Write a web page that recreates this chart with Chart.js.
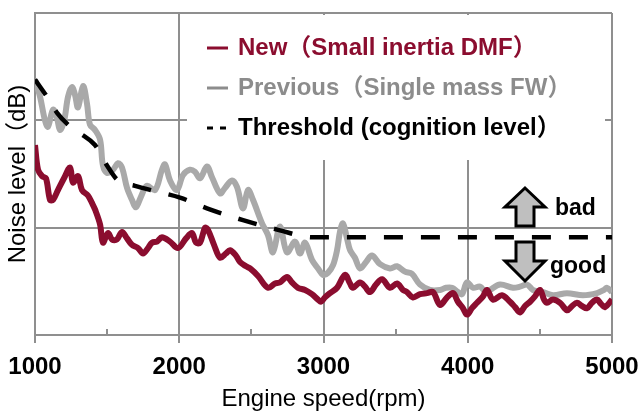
<!DOCTYPE html>
<html>
<head>
<meta charset="utf-8">
<script src="https://cdn.jsdelivr.net/npm/chart.js@4/dist/chart.umd.min.js"></script>
<style>
  html, body { margin: 0; padding: 0; background: #fff; }
  #wrap { width: 640px; height: 414px; }
</style>
</head>
<body>
<div id="wrap"><canvas id="noiseChart" width="640" height="414"></canvas></div>
<script>
const xTicks = [1000, 2000, 3000, 4000, 5000];
const minorTicks = [1500, 2500, 3500, 4500];

const newRpm = [1000,1021,1049,1076,1104,1125,1159,1201,1243,1263,1298,1326,1367,1395,1416,1451,1471,1506,1534,1568,1603,1638,1672,1714,1749,1783,1811,1846,1880,1936,1991,2047,2088,2116,2144,2179,2199,2241,2283,2324,2352,2393,2421,2463,2491,2546,2615,2664,2698,2747,2781,2823,2872,2920,2962,2983,3010,3045,3094,3149,3184,3204,3253,3288,3322,3364,3406,3461,3510,3551,3579,3620,3669,3718,3759,3808,3856,3898,3932,3967,3995,4029,4064,4106,4133,4175,4237,4293,4328,4362,4397,4432,4466,4501,4529,4549,4591,4640,4688,4723,4757,4792,4827,4861,4896,4924,4951,5000];
const newLevel = [17.7,15.4,14.8,14.6,12.6,12.6,13.5,14.6,15.6,14.2,14.8,13.5,13.0,12.3,11.7,10.3,8.6,9.5,8.9,8.9,9.6,9.0,8.4,8.1,7.6,8.1,8.6,8.7,9.1,8.7,8.1,9.0,9.5,8.6,8.6,10.0,9.8,8.4,7.2,7.6,7.9,7.4,6.8,6.4,6.2,5.5,4.4,4.8,4.9,5.4,4.9,4.4,4.2,3.8,3.3,3.1,3.5,3.9,4.4,5.6,4.8,4.4,4.9,4.5,4.0,4.7,5.2,4.4,4.8,4.2,4.0,3.5,3.8,3.9,4.0,2.8,3.5,3.9,3.1,2.5,1.9,2.5,3.0,3.6,4.2,3.3,3.7,3.1,2.6,2.1,2.7,3.1,3.6,4.2,3.3,3.0,3.3,3.0,2.3,2.7,3.0,2.7,2.5,3.0,3.3,2.9,2.6,3.3];

const prevRpm = [1000,1035,1069,1090,1125,1153,1173,1201,1229,1256,1277,1298,1333,1360,1381,1416,1451,1471,1499,1541,1575,1603,1638,1672,1700,1735,1776,1832,1880,1901,1936,1984,2026,2075,2109,2144,2192,2227,2283,2317,2366,2400,2442,2477,2511,2574,2615,2650,2698,2747,2802,2837,2872,2920,2962,2997,3031,3066,3094,3114,3135,3163,3184,3218,3253,3295,3336,3392,3461,3510,3565,3613,3669,3738,3808,3849,3891,3932,3960,3995,4036,4085,4126,4154,4224,4314,4362,4411,4452,4522,4591,4688,4799,4896,4945,4965,5000];
const prevLevel = [23.8,22.2,20.0,19.4,21.0,20.2,19.1,19.9,22.2,23.1,22.4,21.2,23.2,21.6,19.6,19.1,18.2,15.8,15.1,15.4,16.0,15.6,13.7,12.6,11.9,12.9,13.9,13.5,15.4,15.9,14.4,13.5,14.9,15.4,15.2,14.6,15.7,14.7,13.2,13.7,14.4,13.8,11.8,13.5,12.6,10.4,9.3,7.7,10.1,7.7,8.7,7.6,8.6,7.0,6.2,5.6,5.8,6.5,7.9,9.6,10.4,9.0,7.9,7.2,6.2,6.8,7.4,6.6,6.2,6.4,5.9,5.7,4.7,4.2,4.2,4.4,4.4,4.0,3.8,4.9,4.4,4.5,4.0,4.2,4.7,4.4,4.5,4.7,4.2,4.0,3.7,3.9,3.7,3.9,4.2,4.4,4.0];

const thrRpm = [1000,1083,1153,1229,1312,1416,1499,1575,1693,1832,2005,2192,2442,2685,2927,3100,5000];
const thrLevel = [23.8,22.2,20.7,19.6,18.8,17.7,15.8,14.4,13.9,13.4,12.8,11.8,10.7,9.8,9.1,9.1,9.1];

const legendItems = [
  { text: "New（Small inertia DMF）", color: "#8b0d2f", dash: [] },
  { text: "Previous（Single mass FW）", color: "#8c8c8c", dash: [] },
  { text: "Threshold (cognition level）", color: "#000000", dash: [6, 7] }
];

const FONT = "'Liberation Sans', Arial, 'Noto Sans CJK JP', sans-serif";
const gridColor = "#8f8f8f";

function toPoints(xs, ys) {
  return xs.map((x, i) => ({ x: x, y: ys[i] }));
}

const overlay = {
  id: "overlay",
  beforeDatasetsDraw(chart) {
    const c = chart.ctx;
    c.save();
    c.fillStyle = "#ffffff";
    c.fillRect(187, 15, 418, 145);
    c.restore();
  },
  afterDraw(chart) {
    const c = chart.ctx;
    const xs = chart.scales.x;
    const ys = chart.scales.y;
    c.save();

    // small inner ticks between the labelled ones
    c.strokeStyle = gridColor;
    c.lineWidth = 2;
    minorTicks.forEach(v => {
      const px = Math.round(xs.getPixelForValue(v));
      c.beginPath();
      c.moveTo(px, ys.bottom);
      c.lineTo(px, ys.bottom - 6);
      c.stroke();
    });

    // legend
    c.font = "bold 24px " + FONT;
    c.textBaseline = "alphabetic";
    legendItems.forEach((it, i) => {
      const y = 47 + i * 40;
      c.strokeStyle = it.color;
      c.lineWidth = 3;
      c.setLineDash(it.dash);
      c.beginPath();
      c.moveTo(207, y + 1);
      c.lineTo(228, y + 1);
      c.stroke();
      c.setLineDash([]);
      c.fillStyle = it.color;
      c.fillText(it.text, 238, y + 8);
    });

    // bad / good arrows
    const cx = 525;
    c.fillStyle = "#bfbfbf";
    c.strokeStyle = "#000";
    c.lineWidth = 3;
    c.lineJoin = "miter";
    c.beginPath();
    c.moveTo(cx, 188);
    c.lineTo(cx + 20, 207);
    c.lineTo(cx + 9, 207);
    c.lineTo(cx + 9, 226);
    c.lineTo(cx - 9, 226);
    c.lineTo(cx - 9, 207);
    c.lineTo(cx - 20, 207);
    c.closePath();
    c.fill();
    c.stroke();

    c.beginPath();
    c.moveTo(cx, 281);
    c.lineTo(cx + 20, 261);
    c.lineTo(cx + 9, 261);
    c.lineTo(cx + 9, 242);
    c.lineTo(cx - 9, 242);
    c.lineTo(cx - 9, 261);
    c.lineTo(cx - 20, 261);
    c.closePath();
    c.fill();
    c.stroke();

    c.fillStyle = "#000";
    c.font = "bold 23px " + FONT;
    c.fillText("bad", 555, 215);
    c.fillText("good", 550, 273);
    c.restore();
  }
};

const ctx = document.getElementById("noiseChart").getContext("2d");

new Chart(ctx, {
  type: "line",
  data: {
    datasets: [
      {
        label: "Threshold",
        data: toPoints(thrRpm, thrLevel),
        borderColor: "#000000",
        borderWidth: 4.5,
        borderDash: [19, 18],
        cubicInterpolationMode: "monotone",
        pointRadius: 0,
        fill: false,
        order: 0
      },
      {
        label: "New",
        data: toPoints(newRpm, newLevel),
        borderColor: "#8b0d2f",
        borderWidth: 6,
        tension: 0.35,
        pointRadius: 0,
        fill: false,
        order: 1
      },
      {
        label: "Previous",
        data: toPoints(prevRpm, prevLevel),
        borderColor: "#a9a9a9",
        borderWidth: 6,
        tension: 0.35,
        pointRadius: 0,
        fill: false,
        order: 2
      }
    ]
  },
  options: {
    responsive: false,
    animation: false,
    layout: { padding: { top: 13, right: 28, left: 0, bottom: 0 } },
    plugins: {
      legend: { display: false },
      tooltip: { enabled: false }
    },
    scales: {
      x: {
        type: "linear",
        min: 1000,
        max: 5000,
        afterBuildTicks: s => { s.ticks = xTicks.map(v => ({ value: v })); },
        afterFit: s => {
          s.height = 79;
          s.paddingLeft = 0;
          s.paddingRight = 0;
        },
        grid: { color: gridColor, lineWidth: 2, tickLength: 8 },
        border: { color: gridColor, width: 2 },
        ticks: {
          color: "#000",
          padding: 10,
          maxRotation: 0,
          callback: v => String(v),
          font: { family: FONT, size: 24, weight: "bold" }
        },
        title: {
          display: true,
          text: "Engine speed(rpm)",
          color: "#000",
          padding: { top: 0, bottom: 0 },
          font: { family: FONT, size: 24 }
        }
      },
      y: {
        min: 0,
        max: 30,
        afterFit: s => { s.width = 35; },
        ticks: { stepSize: 10, display: false },
        grid: { color: gridColor, lineWidth: 2, drawTicks: false },
        border: { color: gridColor, width: 2 },
        title: {
          display: true,
          text: "Noise level（dB)",
          color: "#000",
          padding: { top: 4, bottom: 0 },
          font: { family: FONT, size: 24 }
        }
      }
    }
  },
  plugins: [overlay]
});
</script>
</body>
</html>
